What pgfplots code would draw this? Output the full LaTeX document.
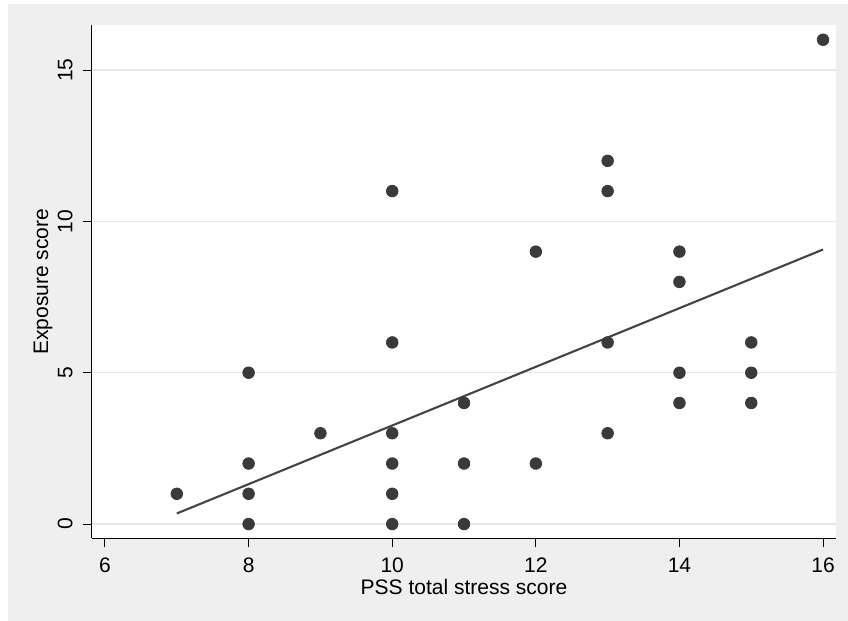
\documentclass[border=0pt]{standalone}
\usepackage{fontspec}
\setmainfont{Liberation Sans}
\usepackage{pgfplots}
\pgfplotsset{compat=1.18}

\definecolor{bggray}{HTML}{EFEFEF}
\definecolor{gridgray}{HTML}{E8E8E8}
\definecolor{dotgray}{HTML}{3A3A3A}

\begin{document}
\begin{tikzpicture}
% page and outer grey region (1px = 0.5pt)
\path[use as bounding box] (-46pt,-41.35pt) rectangle (378pt,269.15pt);
\fill[bggray] (-42pt,-41.35pt) rectangle (378pt,267.15pt);

\begin{axis}[
    at={(0,0)}, anchor=south west,
    scale only axis,
    width=372pt, height=256.65pt,
    xmin=5.819, xmax=16.18,
    ymin=-0.47, ymax=16.487,
    axis background/.style={fill=white},
    axis x line*=bottom, axis y line*=left,
    axis line style={line width=0.5pt, black},
    xtick={6,8,...,16},
    ytick={0,5,10,15},
    tick align=outside,
    major tick length=4.5pt,
    tick style={line width=0.5pt, black},
    ymajorgrids=true,
    grid style={gridgray, line width=0.7pt},
    font=\fontsize{10.5}{12}\selectfont,
    /pgf/number format/assume math mode=true,
    xticklabel style={inner sep=0pt},
    yticklabel style={rotate=90, anchor=south, inner sep=0pt},
    xticklabel shift=5pt,
    yticklabel shift=5pt,
    xlabel={PSS total stress score},
    ylabel={Exposure score},
    xlabel style={at={(axis description cs:0.5,-0.0945)}, anchor=center, inner sep=0pt},
    ylabel style={at={(axis description cs:-0.0659,0.5)}, anchor=center, inner sep=0pt},
    clip=false,
]
\addplot[only marks, mark=*, mark size=2.9pt, dotgray, mark options={draw=dotgray, fill=dotgray}]
coordinates {
    (7,1)
    (8,5) (8,2) (8,1) (8,0)
    (9,3)
    (10,11) (10,6) (10,3) (10,2) (10,1) (10,0)
    (11,4) (11,2) (11,0)
    (12,9) (12,2)
    (13,12) (13,11) (13,6) (13,3)
    (14,9) (14,8) (14,5) (14,4)
    (15,6) (15,5) (15,4)
    (16,16)
};
% fitted values
\addplot[no marks, line width=1.05pt, color=dotgray!95!white]
coordinates {
    (7,0.35)
    (16,9.07)
};
\end{axis}
\end{tikzpicture}
\end{document}
